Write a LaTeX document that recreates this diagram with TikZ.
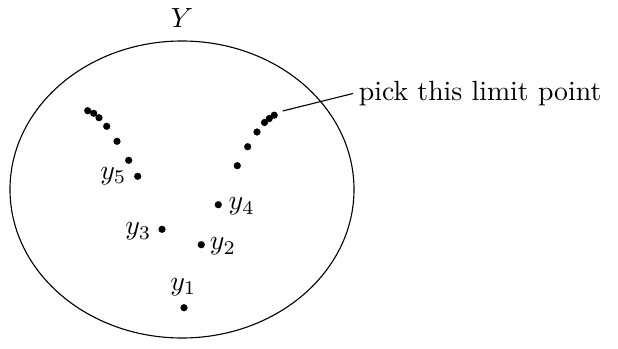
\documentclass[tikz,border=0pt]{standalone}
\begin{document}
\begin{tikzpicture}[x=0.36pt,y=-0.36pt,
  pt/.style={circle,fill=black,inner sep=0pt,minimum size=2.6pt},
  lbl/.style={inner sep=0pt}]
\useasboundingbox (0,0) rectangle (618,349);
\draw (182,189.5) ellipse [x radius=172*0.36pt, y radius=148.5*0.36pt];
\node[lbl] (ylab) at (182,18) {$Y$};
% left chain
\node[pt] (a1) at (87.7,110.7) {};
\node[pt] (a2) at (93.7,113.3) {};
\node[pt] (a3) at (99,117.7) {};
\node[pt] (a4) at (106.7,126.3) {};
\node[pt] (a5) at (117,141.3) {};
\node[pt] (a6) at (128.7,160.3) {};
\node[pt] (y5) at (137.7,176.3) {};
% right chain
\node[pt] (b1) at (274.2,115.2) {};
\node[pt] (b2) at (269.3,118.5) {};
\node[pt] (b3) at (264.5,122.5) {};
\node[pt] (b4) at (257,132) {};
\node[pt] (b5) at (247.7,146.7) {};
\node[pt] (b6) at (237.3,165.7) {};
\node[pt] (y4) at (218.3,204.7) {};
\node[pt] (y3) at (162,229.3) {};
\node[pt] (y2) at (201.3,244.7) {};
\node[pt] (y1) at (184,307.7) {};
\node[lbl] (l5) at (113.3,176) {$y_5$};
\node[lbl] (l4) at (241.7,206.7) {$y_4$};
\node[lbl] (l3) at (138.3,231.7) {$y_3$};
\node[lbl] (l2) at (223,246.7) {$y_2$};
\node[lbl] (l1) at (183.3,287.3) {$y_1$};
\node[inner ysep=0pt,inner xsep=1.9pt,anchor=west] (txt) at (353,93.5) {pick this limit point};
\coordinate (c) at (282.7,111);
\draw (c) -- (txt.west);
\end{tikzpicture}
\end{document}
